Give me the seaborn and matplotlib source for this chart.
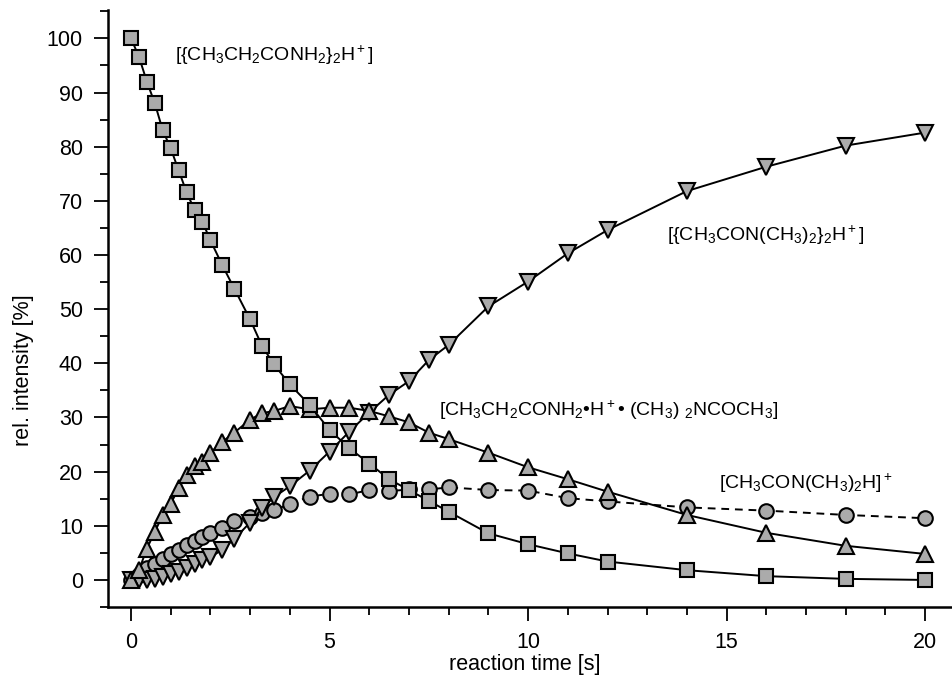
import numpy as np
import seaborn as sns
import matplotlib
matplotlib.use("Agg")
import matplotlib.pyplot as plt

# reaction times [s]
t = [0, 0.2, 0.4, 0.6, 0.8, 1.0, 1.2, 1.4, 1.6, 1.8, 2.0, 2.3, 2.6, 3.0, 3.3, 3.6,
     4.0, 4.5, 5.0, 5.5, 6.0, 6.5, 7.0, 7.5, 8.0, 9.0, 10, 11, 12, 14, 16, 18, 20]

# [{CH3CH2CONH2}2H+]  (squares)
dimer_prop = [100, 96.6, 92, 88, 83, 79.7, 75.6, 71.6, 68.3, 66.1, 62.7, 58.1, 53.8, 48.1, 43.2, 39.8,
              36.1, 32.3, 27.7, 24.3, 21.5, 18.6, 16.6, 14.6, 12.6, 8.6, 6.6, 4.9, 3.4, 1.8, 0.7, 0.2, 0]
# mixed dimer (up triangles)
mixed = [0, 1.8, 5.8, 8.9, 12, 14.1, 16.9, 19.4, 21, 21.8, 23.5, 25.5, 27.2, 29.6, 30.8, 31.2,
         32.1, 31.5, 31.8, 31.8, 31.2, 30.2, 29.1, 27.2, 26.0, 23.5, 20.8, 18.6, 16.3, 12, 8.7, 6.3, 4.8]
# [CH3CON(CH3)2H]+  (circles)
monomer_dma = [0, 1.0, 2.2, 2.9, 3.8, 4.8, 5.6, 6.5, 7.2, 8.0, 8.7, 9.5, 10.9, 11.7, 12.3, 12.9,
               14.0, 15.4, 15.9, 15.8, 16.6, 16.4, 16.7, 16.7, 17.1, 16.6, 16.5, 15.1, 14.5, 13.4, 12.8, 12, 11.4]
# [{CH3CON(CH3)2}2H+]  (down triangles)
dimer_dma = [0, 0, 0, 0.1, 0.6, 1.1, 1.5, 2.2, 3.0, 3.6, 4.2, 5.6, 7.6, 10.6, 13.2, 15.3,
             17.3, 20.2, 23.7, 27.4, 30.9, 34.2, 36.7, 40.6, 43.4, 50.5, 55.1, 60.3, 64.6, 71.8, 76.3, 80.2, 82.6]

sns.set_theme(style="ticks")
plt.rcParams['font.family'] = ['Liberation Sans', 'DejaVu Sans']
plt.rcParams['mathtext.fontset'] = 'custom'
plt.rcParams['mathtext.rm'] = 'Liberation Sans'
plt.rcParams['mathtext.it'] = 'Liberation Sans:italic'
plt.rcParams['mathtext.bf'] = 'Liberation Sans:bold'

fig = plt.figure(figsize=(9.53, 6.79), dpi=100)
ax = fig.add_axes([0.1133, 0.106, 0.8867, 0.879])

fill = '#ababab'
common = dict(color='black', markerfacecolor=fill, markeredgecolor='black',
              markeredgewidth=1.5, linewidth=1.4, estimator=None, sort=False, ax=ax)

sns.lineplot(x=t, y=monomer_dma, marker='o', markersize=10.5, **common)
sns.lineplot(x=t, y=dimer_dma, marker='v', markersize=11.5, **common)
sns.lineplot(x=t, y=mixed, marker='^', markersize=11.5, **common)
sns.lineplot(x=t, y=dimer_prop, marker='s', markersize=9.5, **common)
# dashed style for the circle series
ax.lines[0].set_linestyle((0, (4, 3)))

ax.set_xlim(-0.58, 20.7)
ax.set_ylim(-5, 105.2)
ax.set_xticks([0, 5, 10, 15, 20])
ax.set_xticks(np.arange(0, 21, 1), minor=True)
ax.set_yticks(np.arange(0, 101, 10))
ax.set_yticks(np.arange(-5, 106, 5), minor=True)
ax.tick_params(which='major', length=10, width=1.3, labelsize=15.5, pad=8,
               color='black', labelcolor='black')
ax.tick_params(which='minor', length=5.5, width=1.3, color='black')
for s in ['top', 'right']:
    ax.spines[s].set_visible(False)
for s in ['left', 'bottom']:
    ax.spines[s].set_linewidth(1.8)
    ax.spines[s].set_color('black')

ax.set_xlabel('reaction time [s]', fontsize=15.5, color='black')
ax.set_ylabel('rel. intensity [%]', fontsize=15.5, color='black')
ax.xaxis.set_label_coords(0.493, -0.078)
ax.yaxis.set_label_coords(-0.088, 0.397)

lab = dict(fontsize=14, ha='left', va='center', color='black')
ax.text(1.1, 96.9, r'$\mathregular{[\{CH_3CH_2CONH_2\}_2H^+]}$', **lab)
ax.text(13.5, 63.7, r'$\mathregular{[\{CH_3CON(CH_3)_2\}_2H^+]}$', **lab)
ax.text(7.75, 31.4, r'$\mathregular{[CH_3CH_2CONH_2•H^+•\ (CH_3)\ {}_2NCOCH_3]}$', **lab)
ax.text(14.8, 17.9, r'$\mathregular{[CH_3CON(CH_3)_2H]^+}$', **lab)

fig.savefig('out.png', dpi=100)
